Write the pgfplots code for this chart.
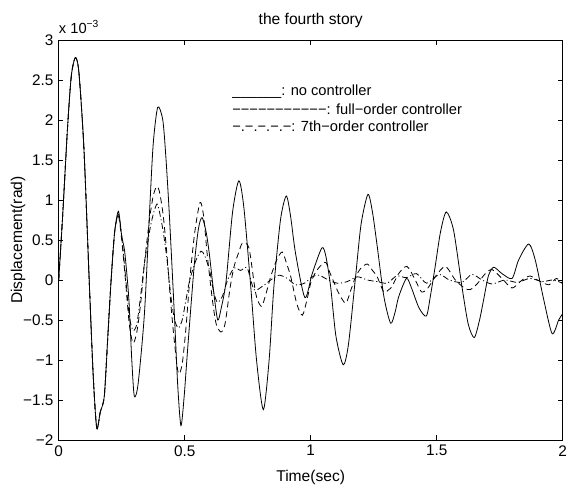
\documentclass[border=0pt]{standalone}
\usepackage{fontspec}
\setmainfont{Liberation Sans}
\usepackage{pgfplots}
\pgfplotsset{compat=1.18}

\begin{document}
\begin{tikzpicture}[x=0.75pt,y=0.75pt]
% fix the page to the reference proportions (566 x 486 px, axis box 504 x 400 px)
\useasboundingbox (-58.7,-46) rectangle (507.3,440);
\begin{axis}[
    at={(0,0)}, anchor=south west,
    scale only axis,
    width=378pt, height=300pt,
    xmin=0, xmax=2,
    ymin=-2, ymax=3,
    xtick={0,0.5,1,1.5,2},
    xticklabels={0,0.5,1,1.5,2},
    ytick={-2,-1.5,-1,-0.5,0,0.5,1,1.5,2,2.5,3},
    yticklabels={−2,−1.5,−1,−0.5,0,0.5,1,1.5,2,2.5,3},
    tick align=inside,
    tick pos=both,
    major tick length=3.5pt,
    tick style={black, line width=0.5pt},
    axis line style={line width=0.6pt},
    tick label style={font=\fontsize{11.5}{13}\selectfont},
    xticklabel style={yshift=-0.5pt},
    yticklabel style={xshift=-0.5pt},
    xlabel={Time(sec)},
    ylabel={Displacement(rad)},
    every axis x label/.style={at={(axis description cs:0.5,-0.0925)}, anchor=center, font=\fontsize{11.7}{13}\selectfont},
    every axis y label/.style={at={(axis description cs:-0.0808,0.5)}, anchor=center, rotate=90, font=\fontsize{11.7}{13}\selectfont},
    title={the fourth story},
    every axis title/.style={at={(axis description cs:0.5,1.05)}, anchor=center, font=\fontsize{11.7}{13}\selectfont},
    clip mode=individual,
    every axis plot/.append style={black, line width=0.6pt, smooth, tension=0.45},
]

% no controller (solid), values in units of 1e-3 rad
\addplot[solid] coordinates {
 (0,0) (0.016,0.82) (0.035,1.9) (0.05,2.55) (0.066,2.78) (0.08,2.6) (0.10,1.65)
 (0.121,0.0) (0.137,-1.2) (0.151,-1.85) (0.165,-1.65) (0.181,-1.45) (0.195,-0.7)
 (0.208,0.0) (0.222,0.6) (0.237,0.86) (0.25,0.55) (0.262,0.35) (0.278,-0.22)
 (0.29,-1.0) (0.30,-1.45) (0.315,-1.3) (0.34,-0.43) (0.36,0.82) (0.375,1.7)
 (0.393,2.16) (0.413,2.0) (0.425,1.55) (0.439,0.82) (0.459,-0.43) (0.472,-1.3)
 (0.485,-1.82) (0.498,-1.45) (0.512,-0.85) (0.538,0.19) (0.555,0.65) (0.569,0.78)
 (0.585,0.6) (0.598,0.32) (0.615,-0.15) (0.631,-0.50) (0.645,-0.35) (0.664,-0.02)
 (0.69,0.85) (0.715,1.24) (0.735,0.9) (0.762,-0.08) (0.785,-1.0) (0.812,-1.62)
 (0.835,-1.0) (0.854,-0.08) (0.88,0.75) (0.903,1.05) (0.92,0.8) (0.94,0.33)
 (0.977,-0.22) (1.006,0.08) (1.044,0.40) (1.06,0.3) (1.079,-0.08) (1.10,-0.7)
 (1.129,-1.06) (1.15,-0.8) (1.178,0.04) (1.20,0.7) (1.227,1.07) (1.245,0.85)
 (1.264,0.42) (1.29,-0.2) (1.317,-0.54) (1.335,-0.4) (1.349,-0.21) (1.38,0.02)
 (1.40,-0.1) (1.43,-0.35) (1.459,-0.45) (1.475,-0.2) (1.494,0.17) (1.515,0.6)
 (1.538,0.85) (1.567,0.62) (1.60,-0.08) (1.625,-0.55) (1.649,-0.72) (1.67,-0.5)
 (1.686,-0.25) (1.705,0.05) (1.726,0.16) (1.759,0.08) (1.799,0.02) (1.825,0.25)
 (1.865,0.45) (1.891,0.25) (1.925,-0.25) (1.958,-0.67) (1.984,-0.5) (2.0,-0.42)
};

% full-order controller (dashed)
\addplot[dash pattern=on 4.5pt off 3pt] coordinates {
 (0,0) (0.016,0.82) (0.035,1.9) (0.05,2.55) (0.066,2.78) (0.08,2.6) (0.10,1.65)
 (0.121,0.0) (0.137,-1.2) (0.151,-1.85) (0.165,-1.65) (0.181,-1.45) (0.195,-0.7)
 (0.208,0.0) (0.222,0.6) (0.237,0.8) (0.25,0.5) (0.265,0.0) (0.28,-0.55)
 (0.295,-0.79) (0.31,-0.65) (0.325,-0.3) (0.34,0.2) (0.36,0.75) (0.375,1.05)
 (0.389,1.17) (0.40,1.1) (0.415,0.8) (0.43,0.3) (0.445,-0.3) (0.46,-0.8)
 (0.475,-1.17) (0.49,-1.05) (0.505,-0.6) (0.52,0.0) (0.54,0.6) (0.561,0.97)
 (0.575,0.8) (0.59,0.3) (0.61,-0.25) (0.625,-0.55) (0.644,-0.65) (0.66,-0.55)
 (0.68,-0.1) (0.696,0.17) (0.715,0.35) (0.729,0.46) (0.755,0.4) (0.782,-0.17)
 (0.804,-0.33) (0.82,-0.2) (0.841,0.04) (0.865,0.25) (0.887,0.35) (0.905,0.2)
 (0.921,0.04) (0.945,-0.3) (0.967,-0.44) (0.985,-0.25) (1.0,-0.04) (1.02,0.1)
 (1.04,0.18) (1.06,0.22) (1.075,0.1) (1.095,-0.05) (1.112,-0.17) (1.139,-0.29)
 (1.16,-0.12) (1.178,0.04) (1.20,0.15) (1.225,0.2) (1.245,0.12) (1.264,0.04)
 (1.29,-0.15) (1.31,-0.12) (1.323,-0.08) (1.349,0.08) (1.382,0.17) (1.415,0.0)
 (1.44,-0.15) (1.465,-0.1) (1.494,0.04) (1.534,0.17) (1.574,0.0) (1.61,-0.1)
 (1.633,-0.12) (1.66,-0.05) (1.693,0.08) (1.72,0.13) (1.759,0.02) (1.799,-0.1)
 (1.839,0.0) (1.87,0.05) (1.9,0.0) (1.945,-0.06) (1.975,0.02) (2.0,-0.05)
};

% 7th-order controller (dash-dot)
\addplot[dash pattern=on 4.5pt off 2pt on 0.8pt off 2pt] coordinates {
 (0,0) (0.016,0.82) (0.035,1.9) (0.05,2.55) (0.066,2.78) (0.08,2.6) (0.10,1.65)
 (0.121,0.0) (0.137,-1.2) (0.151,-1.85) (0.165,-1.65) (0.181,-1.45) (0.195,-0.7)
 (0.208,0.0) (0.222,0.6) (0.237,0.82) (0.25,0.55) (0.265,0.05) (0.28,-0.45)
 (0.295,-0.63) (0.31,-0.55) (0.325,-0.2) (0.34,0.2) (0.36,0.6) (0.375,0.82)
 (0.39,0.95) (0.40,0.85) (0.415,0.6) (0.43,0.25) (0.445,-0.2) (0.46,-0.5)
 (0.475,-0.6) (0.49,-0.5) (0.505,-0.25) (0.52,0.0) (0.545,0.25) (0.565,0.36)
 (0.58,0.3) (0.60,0.1) (0.615,-0.15) (0.63,-0.28) (0.65,-0.2) (0.67,0.0)
 (0.696,0.15) (0.722,0.12) (0.748,0.15) (0.775,-0.12) (0.808,-0.08) (0.841,0.0)
 (0.874,0.06) (0.907,0.02) (0.94,-0.06) (0.975,-0.04) (1.006,0.04) (1.033,0.06)
 (1.07,0.0) (1.106,-0.04) (1.145,-0.02) (1.185,0.04) (1.225,0.0) (1.264,-0.02)
 (1.304,-0.04) (1.34,0.05) (1.38,0.03) (1.42,0.08) (1.46,-0.04) (1.51,0.07)
 (1.55,0.0) (1.60,-0.03) (1.64,0.07) (1.68,0.0) (1.72,-0.05) (1.77,0.0)
 (1.82,-0.03) (1.87,0.02) (1.92,-0.02) (1.96,0.0) (2.0,-0.04)
};

% text legend as in the original
\node[anchor=west, inner sep=0pt, font=\fontsize{11}{13}\selectfont] at (axis cs:0.688,2.36) {\char"5F\char"5F\char"5F\char"5F\char"5F\char"5F: no controller};
\node[anchor=west, inner sep=0pt, font=\fontsize{11}{13}\selectfont] at (axis cs:0.688,2.14) {−−−−−−−−−−−: full−order controller};
\node[anchor=west, inner sep=0pt, font=\fontsize{11}{13}\selectfont] at (axis cs:0.688,1.92) {−.−.−.−.−: 7th−order controller};

% exponent label
\node[anchor=west, inner sep=0pt, font=\fontsize{11}{13}\selectfont] at (axis description cs:0,1.0325) {x 10\textsuperscript{−3}};
\end{axis}
\end{tikzpicture}
\end{document}
